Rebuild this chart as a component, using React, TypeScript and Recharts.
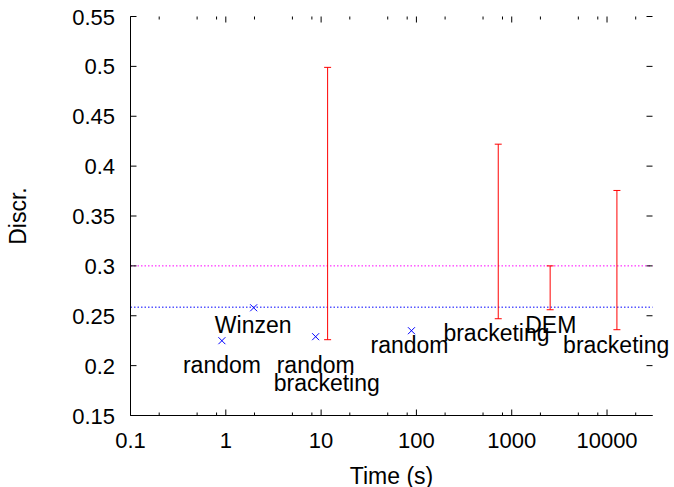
import React from 'react';
import {
  ComposedChart,
  XAxis,
  YAxis,
  Scatter,
  ErrorBar,
  ReferenceLine,
  Customized,
} from 'recharts';

// ---- data ----
const POINT_X = [0.91, 1.96, 8.76, 88.7];
const POINT_Y = [0.225, 0.258, 0.229, 0.235];

const BAR_X = [11.7, 722, 2530, 12700];
const BAR_LOW = [0.226, 0.247, 0.256, 0.236];
const BAR_HIGH = [0.499, 0.422, 0.3, 0.3756];

const LABEL_TEXT = ['Winzen', 'random', 'random', 'bracketing', 'random', 'bracketing', 'DEM', 'bracketing'];
const LABEL_X = [0.767, 0.355, 3.42, 3.18, 33.0, 192, 1385, 3460];
const LABEL_Y = [0.2407, 0.2, 0.2, 0.182, 0.22, 0.2327, 0.2407, 0.2197];

const REF_MAGENTA = 0.3;
const REF_BLUE = 0.2586;

const X_MAJOR = [0.1, 1, 10, 100, 1000, 10000];
const X_MAJOR_LABELS = ['0.1', '1', '10', '100', '1000', '10000'];
const X_MINOR = [0.2, 0.5, 0.8, 2, 5, 8, 20, 50, 80, 200, 500, 800, 2000, 5000, 8000, 20000];
const X_DOMAIN = [0.1, 30000];

const Y_TICKS = [0.15, 0.2, 0.25, 0.3, 0.35, 0.4, 0.45, 0.5, 0.55];
const Y_TICK_LABELS = ['0.15', '0.2', '0.25', '0.3', '0.35', '0.4', '0.45', '0.5', '0.55'];
const Y_DOMAIN = [0.15, 0.55];

// ---- layout ----
const W = 674;
const H = 487;
const M_TOP = 16.5;
const M_RIGHT = 21.5;
const M_LEFT = 0.5;
const Y_AXIS_W = 130;
const X_AXIS_H = 71.5;
const PLOT_LEFT = M_LEFT + Y_AXIS_W;
const PLOT_RIGHT = W - M_RIGHT;
const PLOT_TOP = M_TOP;
const PLOT_BOTTOM = H - X_AXIS_H;
const FONT = '"Liberation Sans", Arial, Helvetica, sans-serif';
const TICK_FS = 22;
const LABEL_FS = 23;

const pointData = POINT_X.map((x, i) => ({ x, y: POINT_Y[i] }));
const barData = BAR_X.map((x, i) => ({ x, y: BAR_LOW[i], err: [0, BAR_HIGH[i] - BAR_LOW[i]] }));
const labelData = LABEL_X.map((x, i) => ({ x, y: LABEL_Y[i], text: LABEL_TEXT[i] }));
const allXTicks = [...X_MAJOR, ...X_MINOR].sort((a, b) => a - b);

const XTick = (props: any) => {
  const { x, payload } = props;
  const v = payload.value;
  const mi = X_MAJOR.indexOf(v);
  const major = mi >= 0;
  const len = major ? 6 : 3;
  return (
    <g>
      <line x1={x} x2={x} y1={PLOT_BOTTOM} y2={PLOT_BOTTOM - len} stroke="#000" strokeWidth={1} />
      <line x1={x} x2={x} y1={PLOT_TOP} y2={PLOT_TOP + len} stroke="#000" strokeWidth={1} />
      {major && (
        <text x={x} y={448} textAnchor="middle" fontFamily={FONT} fontSize={TICK_FS} fill="#000">
          {X_MAJOR_LABELS[mi]}
        </text>
      )}
    </g>
  );
};

const YTick = (props: any) => {
  const { y, payload } = props;
  const idx = Y_TICKS.findIndex((t) => Math.abs(t - payload.value) < 1e-9);
  return (
    <g>
      <line x1={PLOT_LEFT} x2={PLOT_LEFT + 6} y1={y} y2={y} stroke="#000" strokeWidth={1} />
      <line x1={PLOT_RIGHT} x2={PLOT_RIGHT - 6} y1={y} y2={y} stroke="#000" strokeWidth={1} />
      <text x={115} y={y} dy={8} textAnchor="end" fontFamily={FONT} fontSize={TICK_FS} fill="#000">
        {idx >= 0 ? Y_TICK_LABELS[idx] : ''}
      </text>
    </g>
  );
};

const Cross = (props: any) => {
  const { cx, cy } = props;
  const s = 3.5;
  return (
    <g stroke="#0000ff" strokeWidth={1}>
      <line x1={cx - s} y1={cy - s} x2={cx + s} y2={cy + s} />
      <line x1={cx - s} y1={cy + s} x2={cx + s} y2={cy - s} />
    </g>
  );
};

const LabelShape = (props: any) => {
  const { cx, cy, payload } = props;
  return (
    <text x={cx} y={cy} dy={7.5} textAnchor="start" fontFamily={FONT} fontSize={LABEL_FS} fill="#000">
      {payload.text}
    </text>
  );
};

const Empty = () => <g />;

const Titles = () => (
  <g>
    <text x={(PLOT_LEFT + PLOT_RIGHT) / 2} y={484} textAnchor="middle" fontFamily={FONT} fontSize={LABEL_FS} fill="#000">
      Time (s)
    </text>
    <text
      x={0}
      y={0}
      transform={`translate(26, ${(PLOT_TOP + PLOT_BOTTOM) / 2}) rotate(-90)`}
      textAnchor="middle"
      fontFamily={FONT}
      fontSize={LABEL_FS}
      fill="#000"
    >
      Discr.
    </text>
  </g>
);

export default function App() {
  return (
    <div style={{ position: 'absolute', left: 0, top: 0, width: W, height: H, background: '#fff' }}>
      <ComposedChart
        width={W}
        height={H}
        margin={{ top: M_TOP, right: M_RIGHT, left: M_LEFT, bottom: 0 }}
      >
        <XAxis
          dataKey="x"
          type="number"
          scale="log"
          domain={X_DOMAIN}
          ticks={allXTicks}
          interval={0}
          height={X_AXIS_H}
          tickLine={false}
          tickSize={0}
          axisLine={{ stroke: '#000', strokeWidth: 1 }}
          tick={<XTick />}
        />
        <XAxis
          xAxisId="top"
          orientation="top"
          type="number"
          scale="log"
          domain={X_DOMAIN}
          height={0}
          tick={false}
          tickLine={false}
          axisLine={{ stroke: '#000', strokeWidth: 1 }}
        />
        <YAxis
          dataKey="y"
          type="number"
          domain={Y_DOMAIN}
          ticks={Y_TICKS}
          interval={0}
          width={Y_AXIS_W}
          tickLine={false}
          tickSize={0}
          axisLine={{ stroke: '#000', strokeWidth: 1 }}
          tick={<YTick />}
        />
        <YAxis
          yAxisId="right"
          orientation="right"
          type="number"
          domain={Y_DOMAIN}
          width={0}
          tick={false}
          tickLine={false}
          axisLine={{ stroke: '#000', strokeWidth: 1 }}
        />
        <ReferenceLine y={REF_MAGENTA} stroke="#ff00ff" strokeWidth={1} strokeDasharray="1.5 2" />
        <ReferenceLine y={REF_BLUE} stroke="#0000ff" strokeWidth={1} strokeDasharray="1.5 2" />
        <Scatter data={barData} shape={<Empty />} isAnimationActive={false}>
          <ErrorBar dataKey="err" direction="y" width={3.5} stroke="#ff0000" strokeWidth={1} isAnimationActive={false} />
        </Scatter>
        <Scatter data={pointData} shape={<Cross />} isAnimationActive={false} />
        <Scatter data={labelData} shape={<LabelShape />} isAnimationActive={false} />
        <Customized component={<Titles />} />
      </ComposedChart>
    </div>
  );
}
